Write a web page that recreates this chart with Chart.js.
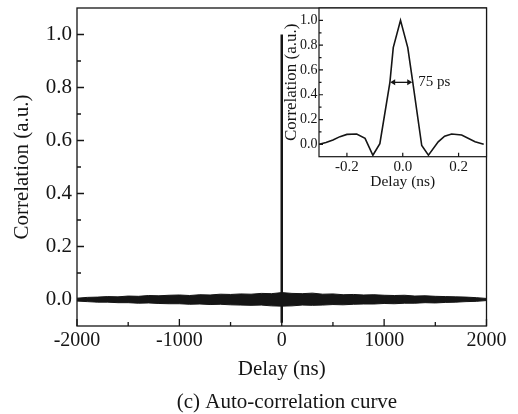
<!DOCTYPE html>
<html>
<head>
<meta charset="utf-8">
<script src="https://cdn.jsdelivr.net/npm/chart.js@4.4.1/dist/chart.umd.min.js"></script>
<style>
  html, body { margin: 0; padding: 0; background: #fff; }
  #wrap { position: relative; width: 518px; height: 414px; }
  #main { position: absolute; left: 0; top: 0; }
  #inset { position: absolute; left: 282px; top: 0; }
</style>
</head>
<body>
<div id="wrap">
  <canvas id="main" width="518" height="414"></canvas>
  <canvas id="inset" width="236" height="200"></canvas>
</div>
<script>
// ---- data ----
// main plot: envelope of the noise floor, delay in ns
const delayNs = [-2000, -1900, -1800, -1700, -1600, -1500, -1400, -1300, -1200, -1100,
  -1000, -900, -800, -700, -600, -500, -400, -300, -200, -100,
  0, 100, 200, 300, 400, 500, 600, 700, 800, 900,
  1000, 1100, 1200, 1300, 1400, 1500, 1600, 1700, 1800, 1900, 2000];
const bandUpper = [0.005, 0.008, 0.009, 0.011, 0.010, 0.013, 0.012, 0.015, 0.014, 0.016,
  0.017, 0.015, 0.018, 0.017, 0.020, 0.019, 0.021, 0.020, 0.023, 0.022,
  0.026, 0.023, 0.022, 0.024, 0.020, 0.021, 0.018, 0.019, 0.017, 0.018,
  0.016, 0.015, 0.016, 0.013, 0.014, 0.012, 0.011, 0.010, 0.009, 0.007, 0.004];
const bandLower = [-0.006, -0.008, -0.010, -0.010, -0.012, -0.012, -0.014, -0.013, -0.015, -0.016,
  -0.016, -0.018, -0.017, -0.019, -0.018, -0.020, -0.021, -0.022, -0.021, -0.024,
  -0.025, -0.024, -0.021, -0.022, -0.021, -0.019, -0.020, -0.018, -0.017, -0.017,
  -0.015, -0.016, -0.014, -0.014, -0.012, -0.013, -0.011, -0.010, -0.008, -0.007, -0.004];

// central peak (inset), delay in ns
const peakDelay = [-0.30, -0.275, -0.25, -0.225, -0.20, -0.165, -0.135, -0.107, -0.082, -0.046,
  -0.034, -0.008, 0.018, 0.036, 0.068, 0.092, 0.127, 0.15, 0.175, 0.211, 0.259, 0.29];
const peakCorr = [0.0, 0.015, 0.035, 0.062, 0.08, 0.083, 0.048, -0.088, 0.005, 0.5,
  0.78, 1.0, 0.78, 0.5, -0.01, -0.088, 0.02, 0.065, 0.083, 0.075, 0.02, 0.0];

// ticks
const mainXTicks = [-2000, -1500, -1000, -500, 0, 500, 1000, 1500, 2000];
const mainXLabels = [-2000, -1000, 0, 1000, 2000];
const mainYTicks = [0, 0.1, 0.2, 0.3, 0.4, 0.5, 0.6, 0.7, 0.8, 0.9, 1.0];
const mainYLabels = [0, 0.2, 0.4, 0.6, 0.8, 1.0];
const insetXTicks = [-0.2, 0, 0.2];
const insetYTicks = [0, 0.1, 0.2, 0.3, 0.4, 0.5, 0.6, 0.7, 0.8, 0.9, 1.0];
const insetYLabels = [0, 0.2, 0.4, 0.6, 0.8, 1.0];

// FWHM marker
const fwhmFrom = -0.045, fwhmTo = 0.034, fwhmLevel = 0.5, fwhmText = '75 ps';
const caption = '(c) Auto-correlation curve';

const SERIF = "'Liberation Serif', 'Times New Roman', serif";
const INK = '#151515';

const has = (list, v) => list.some(l => Math.abs(l - v) < 1e-9);
function noPad(s) { s.paddingTop = 0; s.paddingBottom = 0; s.paddingLeft = 0; s.paddingRight = 0; }
const pts = (xs, ys) => xs.map((x, i) => ({ x: x, y: ys[i] }));

// box frame + inward tick marks
function frameTicks(o) {
  return {
    id: 'frameTicks',
    beforeDraw(chart) {
      if (!o.white) return;
      const a = chart.chartArea, ctx = chart.ctx;
      ctx.save();
      ctx.fillStyle = '#fff';
      ctx.fillRect(a.left, a.top, a.right - a.left, a.bottom - a.top);
      ctx.restore();
    },
    afterDatasetsDraw(chart) {
      const { ctx, chartArea: a } = chart;
      const xs = chart.scales.x, ys = chart.scales.y;
      ctx.save();
      ctx.strokeStyle = INK;
      ctx.lineWidth = o.lw;
      ctx.beginPath();
      xs.ticks.forEach(t => {
        const len = t.label ? o.major : o.minor;
        if (!len) return;
        const p = xs.getPixelForValue(t.value);
        ctx.moveTo(p, a.bottom); ctx.lineTo(p, a.bottom - len);
      });
      ys.ticks.forEach(t => {
        const len = t.label ? o.major : o.minor;
        if (!len) return;
        const p = ys.getPixelForValue(t.value);
        ctx.moveTo(a.left, p); ctx.lineTo(a.left + len, p);
      });
      ctx.stroke();
      ctx.strokeRect(a.left, a.top, a.right - a.left, a.bottom - a.top);
      ctx.restore();
    }
  };
}

const captionPlugin = {
  id: 'caption',
  afterDraw(chart) {
    const ctx = chart.ctx;
    ctx.save();
    ctx.fillStyle = INK;
    ctx.font = '21px ' + SERIF;
    ctx.textAlign = 'center';
    ctx.textBaseline = 'middle';
    ctx.fillText(caption, 287, 402);
    ctx.restore();
  }
};

const fwhmPlugin = {
  id: 'fwhm',
  afterDatasetsDraw(chart) {
    const { ctx } = chart;
    const xs = chart.scales.x, ys = chart.scales.y;
    const x1 = xs.getPixelForValue(fwhmFrom), x2 = xs.getPixelForValue(fwhmTo);
    const y = ys.getPixelForValue(fwhmLevel);
    ctx.save();
    ctx.strokeStyle = INK; ctx.fillStyle = INK; ctx.lineWidth = 1.3;
    ctx.beginPath(); ctx.moveTo(x1 + 2, y); ctx.lineTo(x2 - 2, y); ctx.stroke();
    ctx.beginPath();
    ctx.moveTo(x1, y); ctx.lineTo(x1 + 5, y - 3); ctx.lineTo(x1 + 5, y + 3); ctx.closePath();
    ctx.moveTo(x2, y); ctx.lineTo(x2 - 5, y - 3); ctx.lineTo(x2 - 5, y + 3); ctx.closePath();
    ctx.fill();
    ctx.font = '15px ' + SERIF;
    ctx.textAlign = 'left'; ctx.textBaseline = 'middle';
    ctx.fillText(fwhmText, x2 + 6, y);
    ctx.restore();
  }
};

// ---- main chart ----
new Chart(document.getElementById('main'), {
  type: 'line',
  data: {
    datasets: [
      { data: pts(delayNs, bandUpper), borderColor: INK, borderWidth: 1, pointRadius: 0, fill: false },
      { data: pts(delayNs, bandLower), borderColor: INK, borderWidth: 1, pointRadius: 0, fill: '-1', backgroundColor: INK },
      { data: pts(peakDelay, peakCorr), borderColor: INK, borderWidth: 2.5, pointRadius: 0, fill: false }
    ]
  },
  options: {
    responsive: false,
    animation: false,
    devicePixelRatio: 1,
    layout: { padding: { left: 0, right: 31.5, top: 8, bottom: 0 } },
    plugins: { legend: { display: false }, tooltip: { enabled: false } },
    scales: {
      x: {
        type: 'linear', min: -2000, max: 2000,
        afterBuildTicks: s => { s.ticks = mainXTicks.map(v => ({ value: v })); },
        afterFit: s => { s.height = 88; noPad(s); },
        grid: { display: false, drawTicks: false },
        border: { display: false },
        ticks: {
          autoSkip: false, maxRotation: 0, padding: 3, color: INK,
          font: { family: SERIF, size: 20 },
          callback: v => has(mainXLabels, v) ? String(v) : ''
        },
        title: { display: true, text: 'Delay (ns)', color: INK, font: { family: SERIF, size: 21 }, padding: { top: 0, bottom: 32 } }
      },
      y: {
        min: -0.1, max: 1.1,
        afterBuildTicks: s => { s.ticks = mainYTicks.map(v => ({ value: v })); },
        afterFit: s => { s.width = 77; noPad(s); },
        grid: { display: false, drawTicks: false },
        border: { display: false },
        ticks: {
          autoSkip: false, padding: 5, color: INK,
          font: { family: SERIF, size: 21 },
          callback: v => has(mainYLabels, v) ? v.toFixed(1) : ''
        },
        title: { display: true, text: 'Correlation (a.u.)', color: INK, font: { family: SERIF, size: 21 }, padding: { top: 10, bottom: 0 } }
      }
    }
  },
  plugins: [frameTicks({ lw: 1.3, major: 7, minor: 4 }), captionPlugin]
});

// ---- inset ----
new Chart(document.getElementById('inset'), {
  type: 'line',
  data: {
    datasets: [
      { data: pts(peakDelay, peakCorr), borderColor: INK, borderWidth: 1.6, pointRadius: 0, fill: false, tension: 0 }
    ]
  },
  options: {
    responsive: false,
    animation: false,
    devicePixelRatio: 1,
    layout: { padding: { left: 0, right: 31.5, top: 8, bottom: 0 } },
    plugins: { legend: { display: false }, tooltip: { enabled: false } },
    scales: {
      x: {
        type: 'linear', min: -0.3, max: 0.3,
        afterBuildTicks: s => { s.ticks = insetXTicks.map(v => ({ value: v })); },
        afterFit: s => { s.height = 43.3; noPad(s); },
        grid: { display: false, drawTicks: false },
        border: { display: false },
        ticks: {
          autoSkip: false, maxRotation: 0, padding: 1.5, color: INK,
          font: { family: SERIF, size: 15 },
          callback: v => v.toFixed(1)
        },
        title: { display: true, text: 'Delay (ns)', color: INK, font: { family: SERIF, size: 15.5 }, padding: { top: 0, bottom: 8.7 } }
      },
      y: {
        min: -0.1, max: 1.1,
        afterBuildTicks: s => { s.ticks = insetYTicks.map(v => ({ value: v })); },
        afterFit: s => { s.width = 37; noPad(s); },
        grid: { display: false, drawTicks: false },
        border: { display: false },
        ticks: {
          autoSkip: false, padding: 1.5, color: INK,
          font: { family: SERIF, size: 14 },
          callback: v => has(insetYLabels, v) ? v.toFixed(1) : ''
        },
        title: { display: true, text: 'Correlation (a.u.)', color: INK, font: { family: SERIF, size: 17, lineHeight: 1.15 }, padding: { top: 0, bottom: 0 } }
      }
    }
  },
  plugins: [frameTicks({ lw: 1.2, major: 4, minor: 2.5, white: true }), fwhmPlugin]
});
</script>
</body>
</html>
